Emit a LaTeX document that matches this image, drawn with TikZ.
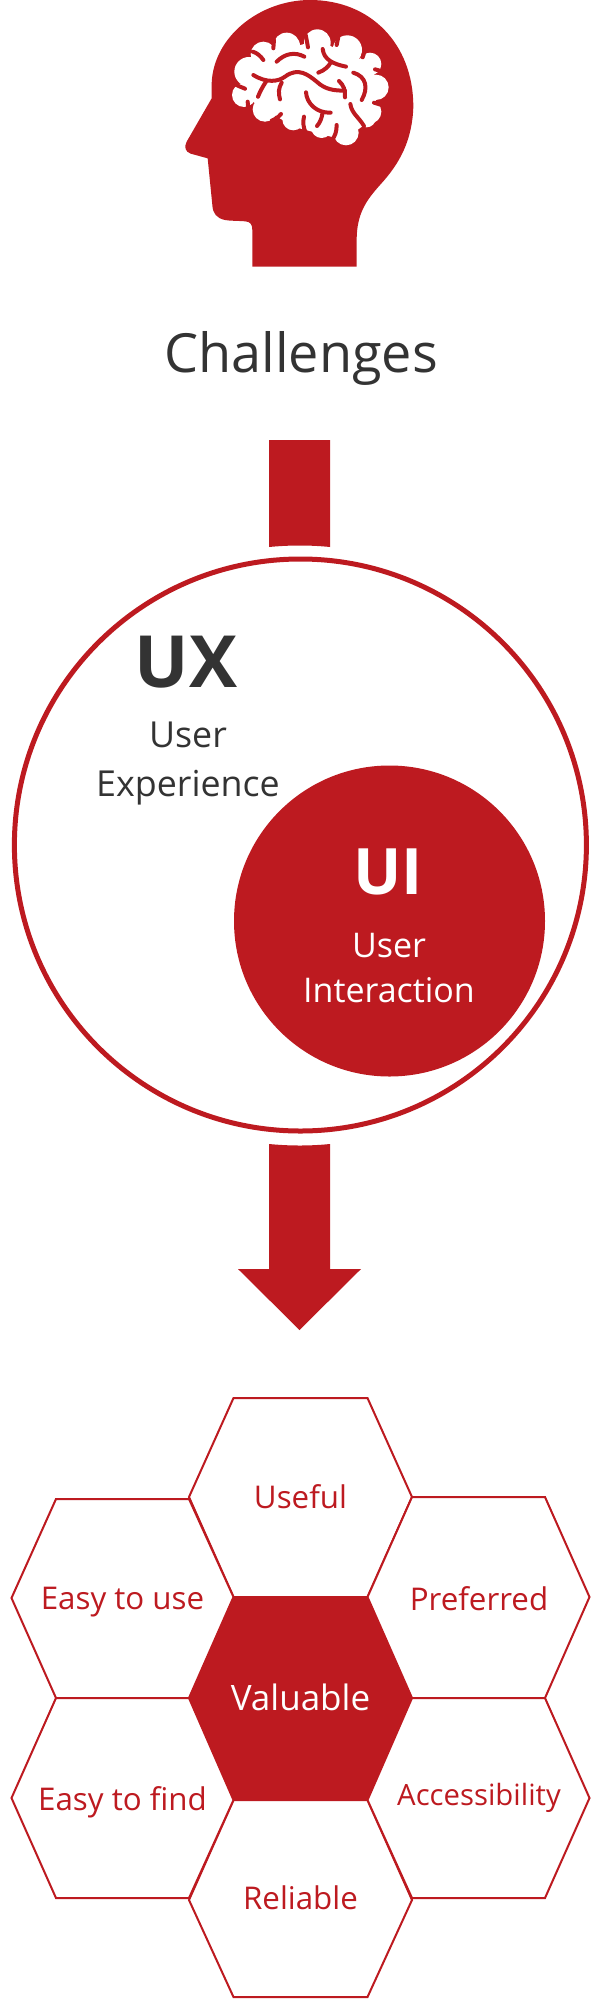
\documentclass[tikz,border=0pt]{standalone}
\usepackage{fontspec}
\setmainfont{Open Sans}
\definecolor{ruby}{HTML}{BD1A20}
\definecolor{ink}{HTML}{333333}
\newcommand{\fs}[1]{\fontsize{#1}{#1}\selectfont}
\begin{document}
\begin{tikzpicture}[x=1pt,y=-1pt]
\tikzstyle{every node}+=[inner sep=0pt,align=center]
\tikzstyle{cell}=[draw=ruby,line width=2pt,line join=miter,fill=white]
\tikzstyle{celltext}=[text=ruby,font=\fs{31.3}]
\tikzstyle{sulcus}=[draw=ruby,line width=4pt,line cap=round]
\useasboundingbox (0,0) rectangle (601,1999);
% head
\begin{scope}[shift={(170,0)},x=1pt/3,y=-1pt/3]
\fill [ruby] (247,800) -- (247,690) .. controls (247,672) and (240,665) .. (225,664)
 .. controls (200,662) and (180,663) .. (165,660) .. controls (140,655) and (128,640) .. (127,615)
 -- (113,475) -- (62,461) .. controls (45,455) and (42,440) .. (50,425) -- (125,295) -- (125,250)
 .. controls (130,110) and (270,0) .. (420,0) .. controls (600,0) and (730,130) .. (730,320)
 .. controls (727,420) and (690,490) .. (630,555) .. controls (590,600) and (560,640) .. (560,720)
 -- (560,800) -- cycle;
% brain
\foreach \x/\y/\r in {280/163/38,350/138/40,442/128/40,532/150/44,600/192/34,618/262/38,
  598/335/36,590/355/27,528/398/38,455/382/32,370/358/33,285/328/37,222/285/36,237/215/44}
  \fill [white] (\x,\y) circle (\r pt/3);
\fill [white] (280,170) -- (440,120) -- (600,190) -- (630,270) -- (590,370) -- (520,420) -- (370,380) -- (240,300) -- (210,220) -- cycle;
\draw [sulcus] (320,185) .. controls (345,160) and (375,155) .. (403,170);
\draw [sulcus] (458,147) .. controls (462,180) and (490,192) .. (528,200);
\draw [sulcus] (445,218) .. controls (465,210) and (475,200) .. (482,188);
\draw [sulcus] (250,225) .. controls (290,250) and (325,245) .. (345,230) .. controls (385,200) and (415,225) .. (440,245) .. controls (465,268) and (490,272) .. (525,272);
\draw [sulcus] (507,243) .. controls (520,255) and (527,270) .. (525,292);
\draw [sulcus] (288,245) .. controls (278,260) and (270,275) .. (264,290);
\draw [sulcus] (335,248) .. controls (325,265) and (325,280) .. (330,298);
\draw [sulcus] (408,277) .. controls (410,310) and (440,340) .. (482,338);
\draw [sulcus] (457,342) .. controls (455,355) and (450,368) .. (441,378);
\draw [sulcus] (550,218) .. controls (590,230) and (595,265) .. (575,300);
\draw [sulcus] (541,312) .. controls (545,340) and (565,350) .. (582,378);
\draw [sulcus] (248,155) .. controls (260,158) and (272,168) .. (280,180);
\draw [sulcus] (312,120) -- (310,145);
\draw [sulcus] (407,105) .. controls (410,120) and (412,130) .. (414,142);
\draw [sulcus] (505,110) -- (500,135);
\draw [sulcus] (585,150) -- (578,172);
\draw [sulcus] (640,215) -- (615,208);
\draw [sulcus] (195,253) .. controls (205,258) and (215,262) .. (225,266);
\draw [sulcus] (233,305) .. controls (232,315) and (235,325) .. (240,332);
\draw [sulcus] (635,315) -- (612,308);
\draw [sulcus] (333,342) .. controls (325,352) and (315,358) .. (305,362);
\draw [sulcus] (402,350) .. controls (398,365) and (400,385) .. (408,400);
\draw [sulcus] (500,375) .. controls (500,395) and (495,410) .. (485,420);
\end{scope}
\node (challenges) at (301,358.5) {\fs{54}\color{ink}Challenges};
% arrows
\fill [ruby] (269,440) -- (330,440) -- (330,547) .. controls (310,545) and (290,545) .. (269,547) -- cycle;
\fill [ruby] (269,1144) -- (269,1269) -- (238,1269) -- (299.5,1330) -- (361,1269) -- (330,1269) -- (330,1144) .. controls (310,1146) and (290,1146) .. (269,1144) -- cycle;
% circles
\draw [ruby,line width=5pt] (300.4,845) circle (286);
\fill [ruby] (389.5,921) circle (155.5);
\node (ux) at (186,662) {\fs{72}\bfseries\color{ink}UX};
\node (uxtext) at (188,763.5) {\fs{35.8}\color{ink}User\\[20.5pt]\fs{35.8}\color{ink}Experience};
\node (ui) at (388,872) {\fs{64}\bfseries\color{white}UI};
\node (uitext) at (389,968) {\fs{34}\color{white}User\\[18pt]\fs{34}\color{white}Interaction};
% hexagons
\draw [cell] (189,1497) -- (233.5,1398) -- (367.5,1398) -- (412,1497) -- (367.5,1597) -- (233.5,1597) -- cycle;
\draw [cell] (189,1900) -- (233.5,1800) -- (367.5,1800) -- (412,1900) -- (367.5,1997) -- (233.5,1997) -- cycle;
\draw [cell] (11.5,1598) -- (56,1499) -- (189,1499) -- (233.5,1597) -- (189,1698) -- (56,1698) -- cycle;
\draw [cell] (11.5,1798) -- (56,1698) -- (189,1698) -- (233.5,1800) -- (189,1898) -- (56,1898) -- cycle;
\draw [cell] (367.5,1597) -- (412,1497) -- (545,1497) -- (589.5,1597) -- (545,1698) -- (412,1698) -- cycle;
\draw [cell] (367.5,1800) -- (412,1698) -- (545,1698) -- (589.5,1798) -- (545,1898) -- (412,1898) -- cycle;
\fill [ruby] (189,1698) -- (233.5,1597) -- (367.5,1597) -- (412,1698) -- (367.5,1800) -- (233.5,1800) -- cycle;
\node [celltext] (useful) at (300.5,1497) {Useful};
\node [celltext] (easyuse) at (122.5,1602) {Easy to use};
\node [celltext] (preferred) at (479,1599) {Preferred};
\node [text=white,font=\fs{35}] (valuable) at (300.5,1697) {Valuable};
\node [celltext] (easyfind) at (122.5,1802) {Easy to find};
\node [text=ruby,font=\fs{29.3}] (access) at (479,1798) {Accessibility};
\node [celltext] (reliable) at (300.5,1898) {Reliable};
\end{tikzpicture}
\end{document}
